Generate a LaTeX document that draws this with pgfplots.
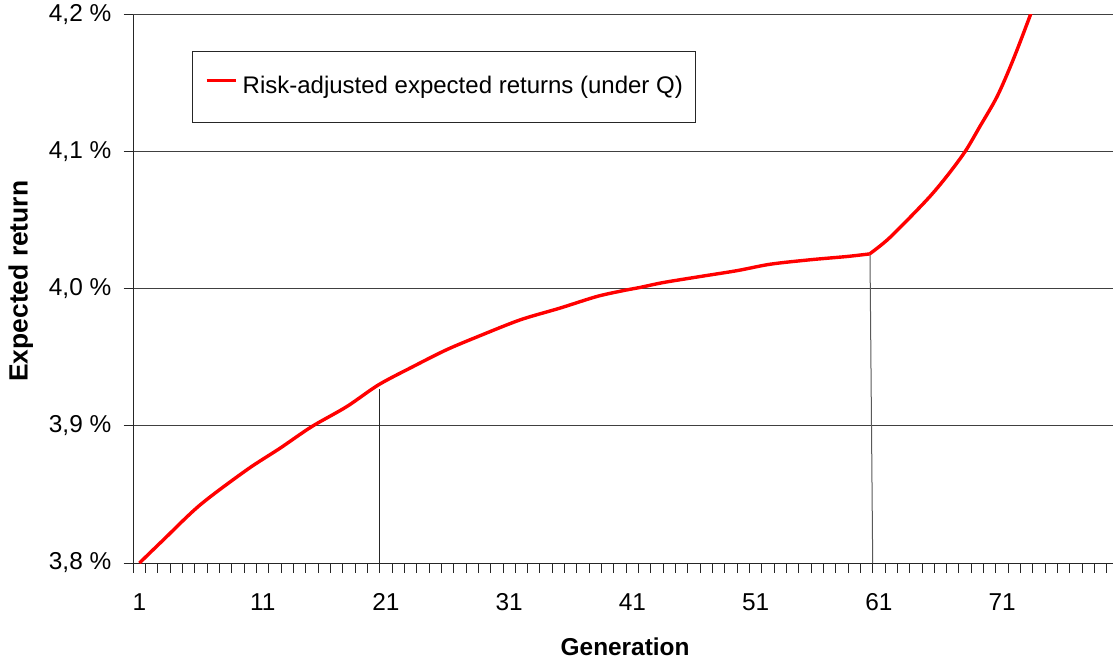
\documentclass[border=0pt]{standalone}
\usepackage{pgfplots}
\pgfplotsset{compat=1.18}
\usepackage{fontspec}
\setmainfont{Liberation Sans}
\begin{document}
\begin{tikzpicture}[font=\fontsize{12.2}{14}\selectfont]
\useasboundingbox (-66.65pt,-49pt) rectangle (489.85pt,281.5pt);
\begin{axis}[
  at={(0,0)}, anchor=south west,
  scale only axis, width=489.85pt, height=274.15pt,
  xmin=0.5, xmax=80, ymin=3.8, ymax=4.2,
  axis lines*=left,
  axis line style={black!85, line width=0.5pt},
  tick align=outside,
  major tick length=4.8pt,
  tick style={black!85, line width=0.5pt},
  ytick={3.8,3.9,4.0,4.1,4.2},
  yticklabels={{3,8 \%},{3,9 \%},{4,0 \%},{4,1 \%},{4,2 \%}},
  ymajorgrids,
  grid style={black!75, line width=0.5pt},
  xtick={0.5,1.5,...,79.5},
  xticklabels={},
  extra x ticks={1,11,21,31,41,51,61,71},
  extra x tick labels={1,11,21,31,41,51,61,71},
  extra x tick style={major tick length=0pt, tick style={draw=none}},
  xticklabel style={inner sep=0pt, anchor=north, yshift=-15pt},
  yticklabel style={inner sep=0pt, anchor=east, xshift=-6pt},
  xlabel={\bfseries Generation},
  xlabel style={at={(axis description cs:0.502,-0.153)}, anchor=center},
  ylabel={\bfseries Expected return},
  ylabel style={at={(axis description cs:-0.1148,0.514)}, anchor=center, font=\fontsize{13.2}{15}\selectfont},
  legend style={at={(axis description cs:0.0596,0.9338)}, anchor=north west,
    draw=black!85, line width=0.5pt, inner xsep=6.4pt, inner ysep=11.9pt,
    nodes={inner sep=0pt, text height=9pt, text depth=2.6pt},
    column sep=2.65pt, font=\fontsize{12}{14}\selectfont},
  legend cell align=left,
  legend image code/.code={\draw[#1] (0pt,0.33em) -- (14.5pt,0.33em);},
]
\addplot[black!85, line width=0.5pt, forget plot] coordinates {(20.45,3.8) (20.45,3.927)};
\addplot[black!65, line width=0.5pt, forget plot] coordinates {(60.5,3.8) (60.28,4.0255)};
\addplot[red, line width=1.7pt, line join=round, smooth, tension=0.5] coordinates {
(1,3.8000) (2.93,3.8168) (5.91,3.8423) (9.70,3.8679) (12.4,3.8837) (14.98,3.8995)
(17.82,3.9141) (20.4,3.9300) (23.2,3.9433) (25.9,3.9555) (28.6,3.9657) (31.9,3.9774)
(35.1,3.9859) (38.1,3.9944) (40.3,3.9988) (41.6,4.0010) (43.5,4.0046) (46.5,4.0090)
(49.5,4.0133) (52.2,4.0180) (55.4,4.0212) (58.4,4.0236) (60.25,4.0255)};
\addlegendentry{Risk-adjusted expected returns (under Q)}
\addplot[red, line width=1.7pt, line join=round, smooth, tension=0.5, forget plot] coordinates {
(60.25,4.0255) (61.9,4.0375)
(64.9,4.0650) (66.5,4.0820) (68.0,4.1002) (69.2,4.1185) (70.6,4.1404) (71.9,4.1672)
(73.3,4.2000) (74.0,4.2180)};
\end{axis}
\end{tikzpicture}
\end{document}
